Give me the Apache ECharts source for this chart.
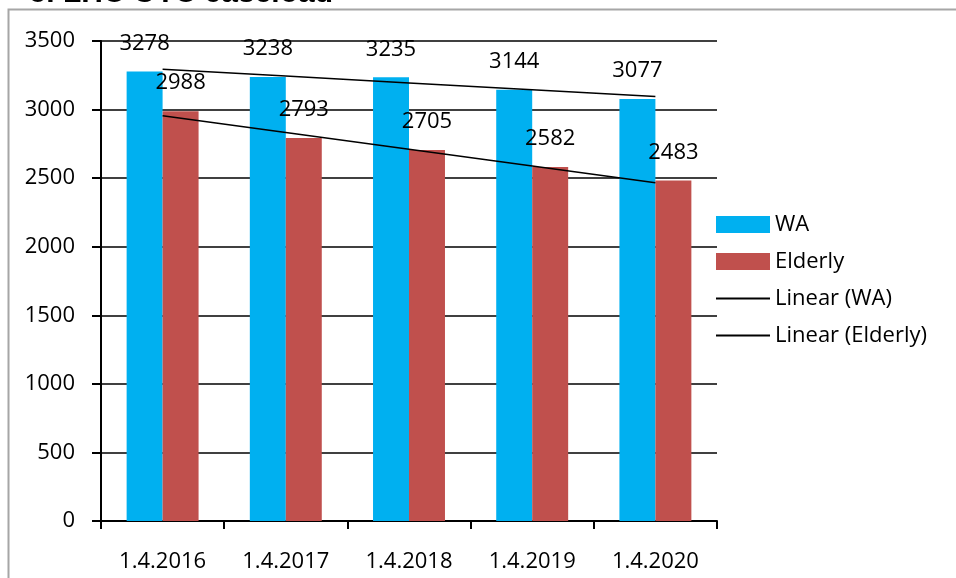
<!DOCTYPE html>
<html>
<head>
<meta charset="utf-8">
<script src="https://cdn.jsdelivr.net/npm/echarts@6/dist/echarts.min.js"></script>
<style>html,body{margin:0;padding:0;background:#fff}#c{width:956px;height:578px}</style>
</head>
<body>
<div id="c"></div>
<script>
var categories = ['1.4.2016', '1.4.2017', '1.4.2018', '1.4.2019', '1.4.2020'];
var waValues = [3278, 3238, 3235, 3144, 3077];
var elderlyValues = [2988, 2793, 2705, 2582, 2483];
var yTicks = [0, 500, 1000, 1500, 2000, 2500, 3000, 3500];
var titleText = '5. LHC OTC caseload';

function linearTrend(vals) {
  var n = vals.length, sx = 0, sy = 0, sxy = 0, sxx = 0;
  for (var i = 0; i < n; i++) { sx += i; sy += vals[i]; sxy += i * vals[i]; sxx += i * i; }
  var b = (n * sxy - sx * sy) / (n * sxx - sx * sx);
  var a = (sy - b * sx) / n;
  return vals.map(function (_, i) { return a + b * i; });
}

var FONT = '"Open Sans", "Noto Sans", sans-serif';
var LINE_ICON = 'path://M0,0L0.01,0L0.01,0.01Z M0,7.6H54V9.4H0Z M0,17L0.01,17L0.01,16.99Z';
var chart = echarts.init(document.getElementById('c'));
chart.setOption({
  animation: false,
  backgroundColor: '#fff',
  textStyle: { fontFamily: FONT },
  grid: { left: 101, right: 239, top: 41, bottom: 57, containLabel: false },
  graphic: [
    { type: 'rect', shape: { x: 8.5, y: 9.5, width: 1000, height: 700 },
      style: { fill: 'none', stroke: '#a6a6a6', lineWidth: 2 }, silent: true, z: -1 },
    { type: 'text', x: 333, y: -6,
      style: { text: titleText, fill: '#000', font: 'bold 30px "Liberation Sans", Arial, sans-serif',
               align: 'right', verticalAlign: 'middle' } }
  ],
  legend: {
    orient: 'vertical', left: 711, top: 207,
    itemWidth: 54, itemHeight: 17, itemGap: 12,
    textStyle: { fontFamily: FONT, fontSize: 22, color: '#000', lineHeight: 25 },
    data: [
      { name: 'WA', icon: 'rect' },
      { name: 'Elderly', icon: 'rect' },
      { name: 'Linear (WA)', icon: LINE_ICON },
      { name: 'Linear (Elderly)', icon: LINE_ICON }
    ]
  },
  xAxis: {
    type: 'category', data: categories, boundaryGap: true,
    axisLine: { lineStyle: { color: '#000', width: 2 } },
    axisTick: { show: true, length: 8, lineStyle: { color: '#000', width: 2 } },
    axisLabel: { color: '#000', fontSize: 22, margin: 30, fontFamily: FONT },
    splitLine: { show: false }
  },
  yAxis: {
    type: 'value', min: yTicks[0], max: yTicks[yTicks.length - 1], interval: 500,
    axisLine: { show: true, lineStyle: { color: '#000', width: 2 } },
    axisTick: { show: true, length: 9, lineStyle: { color: '#000', width: 2 } },
    axisLabel: { color: '#000', fontSize: 22, margin: 26, fontFamily: FONT,
                 formatter: function (v) { return String(v); } },
    splitLine: { show: true, lineStyle: { color: '#000', width: 1.5 } }
  },
  series: [
    { name: 'WA', type: 'bar', data: waValues, barGap: '0%', barCategoryGap: '41.6%',
      itemStyle: { color: '#00B0F0' },
      label: { show: true, position: 'top', distance: 17, color: '#000', fontSize: 22, fontFamily: FONT } },
    { name: 'Elderly', type: 'bar', data: elderlyValues, barGap: '0%', barCategoryGap: '41.6%',
      itemStyle: { color: '#C0504D' },
      label: { show: true, position: 'top', distance: 17, color: '#000', fontSize: 22, fontFamily: FONT } },
    { name: 'Linear (WA)', type: 'line', data: linearTrend(waValues), symbol: 'none', z: 5,
      lineStyle: { color: '#000', width: 1.5 }, itemStyle: { color: '#000' } },
    { name: 'Linear (Elderly)', type: 'line', data: linearTrend(elderlyValues), symbol: 'none', z: 5,
      lineStyle: { color: '#000', width: 1.5 }, itemStyle: { color: '#000' } }
  ]
});
</script>
</body>
</html>
